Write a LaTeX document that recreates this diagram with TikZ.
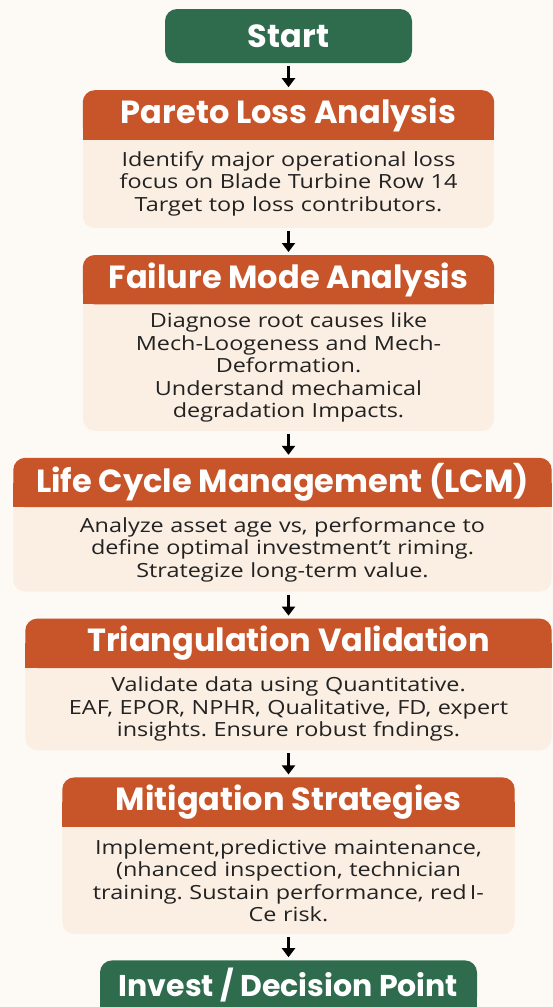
\documentclass[tikz,border=0pt]{standalone}
\usepackage{fontspec}
\setmainfont{Open Sans}[FakeStretch=1.2]
\newfontfamily\headfont{Poppins}
\frenchspacing
\usetikzlibrary{arrows.meta,positioning,backgrounds}
\definecolor{termgreen}{RGB}{46,108,77}
\definecolor{hdorange}{RGB}{200,84,41}
\definecolor{bdpeach}{RGB}{251,238,226}
\definecolor{paper}{RGB}{253,250,246}
\definecolor{ink}{RGB}{34,34,34}

\begin{document}
\begin{tikzpicture}[
  >={Triangle[width=13pt,length=9pt]}, node distance=27pt,
  term/.style={fill=termgreen, text=white, rounded corners=12pt, inner sep=0pt, minimum height=54pt,
               font=\headfont\bfseries\fontsize{32}{36}\selectfont},
  hd/.style={text=white, inner sep=0pt, minimum height=49pt, font=\headfont\bfseries\fontsize{32}{36}\selectfont},
  bd/.style={text=ink, align=center, inner sep=0pt, font=\fontsize{19.5}{22.5}\selectfont},
  flow/.style={->, line width=2.2pt, shorten <=3pt, shorten >=3pt}]

  \useasboundingbox (0,0) rectangle (553pt,-1007pt);

  % --- start ---
  \node[term, minimum width=247pt] (start) at (288.5pt,-36pt) {Start};

  % --- the five analysis steps (title band + body) ---
  \node[hd, minimum width=411pt, below=of start] (pareto-hd) {Pareto Loss Analysis};
  \node[bd, text width=411pt, minimum height=88pt, below=0pt of pareto-hd] (pareto-bd)
    {Identify major operational loss\\focus on Blade Turbine Row 14\\Target top loss contributors.};

  \node[hd, minimum width=411pt, below=of pareto-bd] (failure-hd) {Failure Mode Analysis};
  \node[bd, text width=411pt, minimum height=126pt, below=0pt of failure-hd] (failure-bd)
    {Diagnose root causes like\\Mech-Loogeness and Mech-\\Deformation.\\Understand mechamical\\degradation Impacts.};

  \node[hd, minimum width=538pt, below=of failure-bd, xshift=-6pt] (lcm-hd) {Life Cycle Management (LCM)};
  \node[bd, text width=538pt, minimum height=84pt, below=0pt of lcm-hd] (lcm-bd)
    {Analyze asset age vs, performance to\\define optimal investment’t riming.\\Strategize long-term value.};

  \node[hd, minimum width=526pt, below=of failure-bd |- lcm-bd.south] (tri-hd) {Triangulation Validation};
  \node[bd, text width=526pt, minimum height=82pt, below=0pt of tri-hd] (tri-bd)
    {Validate data using Quantitative.\\EAF, EPOR, NPHR, Qualitative, FD, expert\\insights. Ensure robust fndings.};

  \node[hd, minimum width=452pt, below=of tri-bd] (mit-hd) {Mitigation Strategies};
  \node[bd, text width=452pt, minimum height=107pt, below=0pt of mit-hd] (mit-bd)
    {Implement,predictive maintenance,\\(nhanced inspection, technician\\training. Sustain performance, red\,I-\\Ce risk.};

  % --- decision (runs off the lower edge) ---
  \node[term, minimum width=377pt, minimum height=49pt, below=26pt of mit-bd,
        font=\headfont\bfseries\fontsize{30}{34}\selectfont] (invest) {Invest / Decision Point};

  \draw[flow] (start) -- (pareto-hd);
  \draw[flow] (pareto-bd) -- (failure-hd);
  \draw[flow] (failure-bd) -- (failure-bd |- lcm-hd.north);
  \draw[flow] (lcm-bd.south -| tri-hd) -- (tri-hd);
  \draw[flow] (tri-bd) -- (mit-hd);
  \draw[flow] (mit-bd) -- (invest);

  \begin{scope}[on background layer]
    \fill[paper] (0,0) rectangle (553pt,-1007pt);
    \fill[termgreen] (invest.west) rectangle (invest.south east);
    \foreach \s in {pareto,failure,lcm,tri,mit} {
      \fill[bdpeach, rounded corners=12pt] (\s-hd.north west) rectangle (\s-bd.south east);
      \fill[hdorange, rounded corners=12pt] (\s-hd.north west) rectangle (\s-hd.south east);
      \fill[hdorange] (\s-hd.west) rectangle (\s-hd.south east);
    }
  \end{scope}
\end{tikzpicture}
\end{document}
